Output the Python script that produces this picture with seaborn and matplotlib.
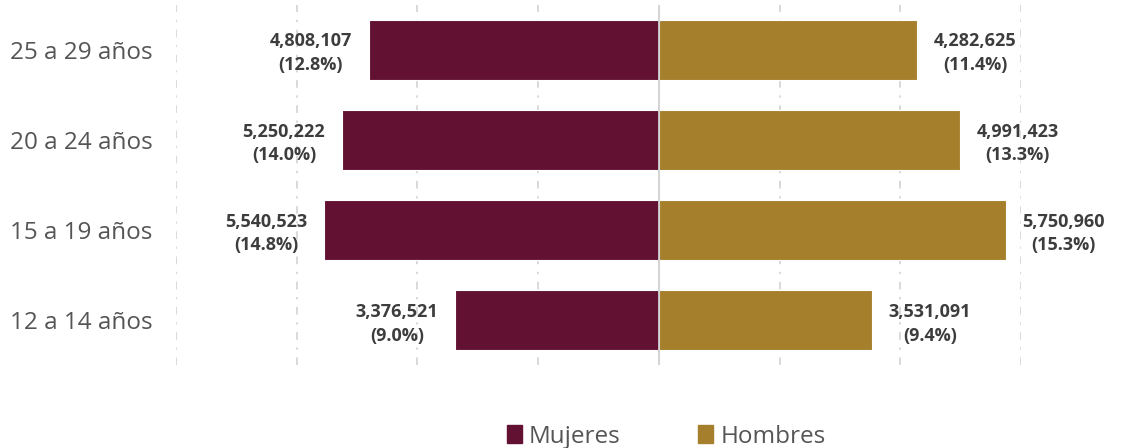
import numpy as np
import pandas as pd
import seaborn as sns
import matplotlib.pyplot as plt
from matplotlib.patches import Patch

# datos
grupos = ['25 a 29 años', '20 a 24 años', '15 a 19 años', '12 a 14 años']
mujeres = [4808107, 5250222, 5540523, 3376521]
hombres = [4282625, 4991423, 5750960, 3531091]
pct_mujeres = [12.8, 14.0, 14.8, 9.0]
pct_hombres = [11.4, 13.3, 15.3, 9.4]

col_m = '#621132'
col_h = '#A57F2C'

df = pd.DataFrame({
    'edad': grupos * 2,
    'valor': [-v for v in mujeres] + hombres,
    'sexo': ['Mujeres'] * 4 + ['Hombres'] * 4,
})

sns.set_style('white')
plt.rcParams['font.family'] = ['Open Sans', 'DejaVu Sans']

fig = plt.figure(figsize=(11.33, 4.48), dpi=100)
ax = fig.add_axes([0.1553, 0.185, 0.9011 - 0.1553, 0.804])

sns.barplot(data=df, y='edad', x='valor', hue='sexo', dodge=False, orient='h',
            palette={'Mujeres': col_m, 'Hombres': col_h}, width=0.67, saturation=1,
            edgecolor='white', linewidth=0.8, ax=ax, legend=False)

ax.set_xlim(-8000000, 6000000)
ax.set_ylim(3.5, -0.5)

for x in range(-8000000, 6000001, 2000000):
    if x == 0:
        ax.axvline(0, color='#d0d0d0', lw=1.3, zorder=3)
    else:
        ax.axvline(x, color='#d0d0d0', lw=1.1, linestyle=(0, (5, 5, 1.5, 5)), zorder=0)

for i in range(len(grupos)):
    ax.annotate('{:,}\n({:.1f}%)'.format(mujeres[i], pct_mujeres[i]), xy=(-mujeres[i], i),
                xytext=(-12, -2.5), textcoords='offset points', ha='right', va='center',
                multialignment='center', fontsize=13, fontweight='bold', color='#3d3d3d',
                linespacing=1.42)
    ax.annotate('{:,}\n({:.1f}%)'.format(hombres[i], pct_hombres[i]), xy=(hombres[i], i),
                xytext=(12, -2.5), textcoords='offset points', ha='left', va='center',
                multialignment='center', fontsize=13, fontweight='bold', color='#3d3d3d',
                linespacing=1.42)

ax.set_xticks([])
ax.set_xlabel('')
ax.set_ylabel('')
ax.tick_params(axis='y', length=0, labelsize=17.5, labelcolor='#555555', pad=17)
for s in ax.spines.values():
    s.set_visible(False)

handles = [Patch(color=col_m, label='Mujeres'), Patch(color=col_h, label='Hombres')]
fig.legend(handles=handles, loc='lower center', bbox_to_anchor=(0.588, -0.05), ncol=2,
           frameon=False, fontsize=17.5, labelcolor='#555555', handlelength=0.6,
           handleheight=0.75, handletextpad=0.3, columnspacing=3.2)

fig.savefig('out.png', dpi=100)
